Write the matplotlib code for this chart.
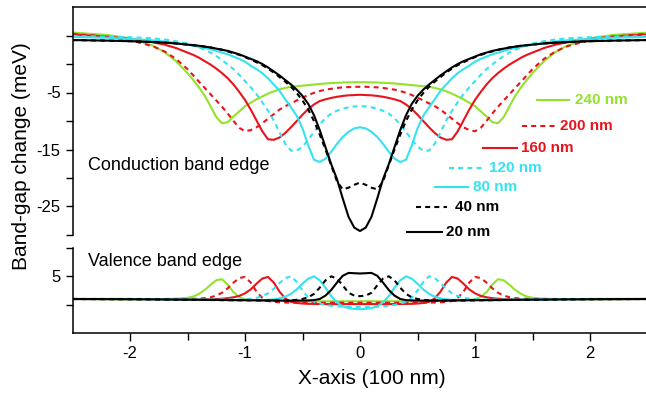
import numpy as np
import matplotlib
matplotlib.use("Agg")
import matplotlib.pyplot as plt
from matplotlib.lines import Line2D

plt.rcParams['font.family'] = ['Liberation Sans', 'DejaVu Sans']

# half profiles (x >= 0), mirrored to negative x below
x_half = [0.0, 0.05, 0.1, 0.15, 0.2, 0.25, 0.3, 0.35, 0.4, 0.45, 0.5, 0.55, 0.6,
          0.65, 0.7, 0.75, 0.8, 0.85, 0.9, 0.95, 1.0, 1.05, 1.1, 1.15, 1.2, 1.25,
          1.3, 1.35, 1.4, 1.45, 1.5, 1.6, 1.7, 1.8, 2.0, 2.2, 2.5]

widths = ['240 nm', '200 nm', '160 nm', '120 nm', '80 nm', '40 nm', '20 nm']

# conduction band edge (meV)
cb_240 = [-3.2, -3.2, -3.22, -3.25, -3.3, -3.35, -3.42, -3.5, -3.6, -3.7, -3.8, -3.9, -4.0,
          -4.2, -4.45, -4.8, -5.2, -5.7, -6.2, -6.8, -7.4, -8.3, -9.2, -10.2, -10.4, -9.3,
          -7.4, -5.6, -4.1, -2.8, -1.6, 0.5, 2.1, 3.2, 4.5, 5.1, 5.5]
cb_200 = [-4.0, -4.0, -4.05, -4.1, -4.2, -4.35, -4.5, -4.75, -5.05, -5.45, -5.9, -6.4, -6.9,
          -7.4, -8.0, -8.8, -9.6, -10.4, -11.1, -11.6, -11.8, -11.2, -10.0, -8.7, -7.5, -6.4,
          -5.3, -4.2, -3.1, -2.0, -0.9, 0.9, 2.2, 3.1, 4.2, 4.8, 5.3]
cb_160 = [-5.4, -5.45, -5.5, -5.6, -5.75, -5.95, -6.2, -6.5, -7.1, -7.9, -8.9, -10.0, -11.1,
          -12.1, -12.9, -13.3, -13.2, -11.8, -9.9, -8.0, -6.3, -4.9, -3.6, -2.5, -1.6, -0.8,
          -0.1, 0.5, 1.1, 1.6, 2.0, 2.8, 3.4, 3.8, 4.4, 4.8, 5.2]
cb_120 = [-7.4, -7.45, -7.6, -7.85, -8.2, -8.7, -9.5, -10.6, -11.9, -13.3, -14.5, -15.2, -15.2,
          -14.0, -12.0, -9.9, -8.2, -6.7, -5.3, -4.1, -3.0, -1.9, -0.9, -0.1, 0.7, 1.4,
          2.0, 2.5, 2.9, 3.3, 3.6, 4.0, 4.3, 4.5, 4.7, 4.8, 4.9]
cb_80 = [-11.1, -11.3, -11.9, -12.8, -14.0, -15.4, -16.6, -17.2, -16.8, -14.3, -11.3, -9.1, -7.6,
         -6.2, -4.7, -3.6, -2.5, -1.6, -0.9, -0.3, 0.4, 0.9, 1.3, 1.7, 2.0, 2.3,
         2.6, 2.8, 3.0, 3.2, 3.4, 3.7, 3.95, 4.15, 4.4, 4.6, 4.75]
cb_40 = [-20.8, -21.2, -21.7, -22.0, -20.6, -17.8, -15.0, -12.4, -10.0, -8.0, -6.4, -5.1, -4.0,
         -3.1, -2.3, -1.5, -0.8, -0.2, 0.3, 0.8, 1.2, 1.6, 1.9, 2.2, 2.5, 2.7,
         2.9, 3.05, 3.2, 3.3, 3.4, 3.6, 3.75, 3.85, 4.0, 4.1, 4.2]
cb_20 = [-29.3, -28.7, -26.8, -23.6, -20.2, -17.6, -14.6, -11.6, -9.0, -7.0, -5.6, -4.5, -3.6,
         -2.8, -2.0, -1.3, -0.6, 0.0, 0.5, 0.9, 1.3, 1.7, 2.0, 2.3, 2.5, 2.7,
         2.9, 3.05, 3.2, 3.3, 3.4, 3.6, 3.75, 3.85, 4.0, 4.1, 4.2]

# valence band edge (meV)
vb_240 = [0.6, 0.6, 0.6, 0.6, 0.6, 0.6, 0.6, 0.6, 0.6, 0.6, 0.6, 0.6, 0.62,
          0.63, 0.65, 0.67, 0.7, 0.73, 0.78, 0.85, 0.95, 1.35, 2.2, 3.5, 4.5, 4.3,
          3.5, 2.6, 1.9, 1.45, 1.2, 1.05, 1.0, 0.97, 0.95, 0.95, 1.0]
vb_200 = [0.35, 0.35, 0.35, 0.35, 0.35, 0.35, 0.35, 0.35, 0.35, 0.35, 0.35, 0.35, 0.35,
          0.38, 0.42, 0.5, 0.65, 1.2, 2.3, 3.9, 4.9, 4.7, 3.9, 2.9, 2.1, 1.6,
          1.3, 1.15, 1.07, 1.03, 1.0, 1.0, 1.0, 1.0, 1.0, 1.0, 1.0]
vb_160 = [0.1, 0.1, 0.1, 0.1, 0.1, 0.1, 0.1, 0.12, 0.13, 0.15, 0.2, 0.3, 0.5,
          1.1, 2.3, 3.9, 4.9, 4.6, 3.7, 2.7, 2.0, 1.55, 1.3, 1.15, 1.05, 1.0,
          0.95, 0.92, 0.9, 0.9, 0.9, 0.92, 0.95, 0.97, 1.0, 1.0, 1.0]
vb_120 = [-0.4, -0.4, -0.38, -0.35, -0.3, -0.2, -0.05, 0.2, 0.5, 1.2, 2.5, 4.0, 5.0,
          4.7, 3.8, 2.8, 2.0, 1.5, 1.2, 1.05, 0.95, 0.9, 0.9, 0.9, 0.9, 0.9,
          0.9, 0.9, 0.9, 0.9, 0.92, 0.93, 0.95, 0.97, 1.0, 1.0, 1.0]
vb_80 = [-0.8, -0.75, -0.6, -0.3, 0.4, 1.5, 3.0, 4.3, 5.0, 4.6, 3.7, 2.7, 1.9,
         1.4, 1.1, 0.95, 0.85, 0.8, 0.8, 0.8, 0.8, 0.8, 0.8, 0.82, 0.83, 0.85,
         0.86, 0.87, 0.88, 0.89, 0.9, 0.92, 0.94, 0.96, 1.0, 1.0, 1.0]
vb_40 = [1.5, 1.6, 2.1, 3.4, 4.6, 5.0, 4.3, 3.0, 1.9, 1.3, 1.0, 0.85, 0.78,
         0.74, 0.72, 0.72, 0.72, 0.73, 0.74, 0.75, 0.76, 0.77, 0.78, 0.79, 0.8, 0.81,
         0.82, 0.83, 0.84, 0.85, 0.86, 0.88, 0.9, 0.92, 0.95, 0.97, 1.0]
vb_20 = [5.5, 5.55, 5.6, 5.1, 3.9, 2.6, 1.6, 1.0, 0.8, 0.75, 0.72, 0.72, 0.72,
         0.72, 0.73, 0.74, 0.75, 0.76, 0.77, 0.78, 0.79, 0.8, 0.8, 0.81, 0.82, 0.83,
         0.84, 0.85, 0.86, 0.87, 0.88, 0.9, 0.92, 0.94, 0.96, 0.98, 1.0]

green = '#93e22b'
red = '#e8141c'
cyan = '#35e3f0'
colors = [green, red, red, cyan, cyan, 'black', 'black']
dashed = [False, True, False, True, False, True, False]
cb_all = [cb_240, cb_200, cb_160, cb_120, cb_80, cb_40, cb_20]
vb_all = [vb_240, vb_200, vb_160, vb_120, vb_80, vb_40, vb_20]


def mirror(h):
    h = np.asarray(h, dtype=float)
    return np.concatenate([h[:0:-1], h])


xh = np.asarray(x_half)
x = np.concatenate([-xh[:0:-1], xh])

W, H = 646, 394
fig = plt.figure(figsize=(W / 100, H / 100), dpi=100)


def fx(px):
    return px / W


def fy(py):
    return 1 - py / H


ax_top = fig.add_axes([fx(72.5), fy(235), fx(575), (235 - 7) / H])
ax_bot = fig.add_axes([fx(72.5), fy(333), fx(575), (333 - 248) / H])

lw = 1.5
dash = (0, (2.4, 2.0))
for cb, vb, c, d in zip(cb_all, vb_all, colors, dashed):
    ls = dash if d else '-'
    ax_top.plot(x, mirror(cb), color=c, lw=lw, linestyle=ls)
    ax_bot.plot(x, mirror(vb), color=c, lw=lw, linestyle=ls)

for ax in (ax_top, ax_bot):
    ax.set_xlim(-2.5, 2.5)
    ax.spines['right'].set_visible(False)
    for s in ax.spines.values():
        s.set_linewidth(1.1)
    ax.tick_params(axis='both', direction='out', labelsize=12, width=1.0, length=5)

ax_top.set_ylim(-30, 10)
ax_top.spines['bottom'].set_visible(False)
ax_top.set_yticks([5, 0, -5, -10, -15, -20, -25, -30])
ax_top.set_yticklabels(['', '', '-5', '', '-15', '', '-25', ''])
ax_top.tick_params(axis='x', bottom=False, labelbottom=False)

ax_bot.set_ylim(-5, 10)
ax_bot.spines['top'].set_visible(False)
ax_bot.set_yticks([10, 5, 0])
ax_bot.set_yticklabels(['', '5', ''])
ax_bot.set_xticks([-2, -1, 0, 1, 2])
ax_bot.set_xticklabels(['-2', '-1', '0', '1', '2'])
ax_bot.set_xticks([-1.5, -0.5, 0.5, 1.5], minor=True)
ax_bot.tick_params(axis='x', which='major', length=6)
ax_bot.tick_params(axis='x', which='minor', length=5, width=1.0)

fig.text(fx(22), fy(156), 'Band-gap change (meV)', rotation=90,
         ha='center', va='center', fontsize=15)
fig.text(fx(372), fy(378), 'X-axis (100 nm)', ha='center', va='center', fontsize=15)
fig.text(fx(88), fy(165), 'Conduction band edge', ha='left', va='center', fontsize=13)
fig.text(fx(88), fy(262), 'Valence band edge', ha='left', va='center', fontsize=13)

# staircase key
key_pos = [(537, 569, 575, 100), (522, 557, 560, 126), (483, 517, 521, 148),
           (449, 483, 489, 168), (435, 468, 473, 187), (416, 447, 455, 207),
           (407, 442, 446, 232)]
for (x0, x1, xt, yk), lab, c, d in zip(key_pos, widths, colors, dashed):
    fig.add_artist(Line2D([fx(x0), fx(x1)], [fy(yk), fy(yk)], transform=fig.transFigure,
                          color=c, lw=lw, linestyle=dash if d else '-'))
    fig.text(fx(xt), fy(yk), lab, color=c, fontsize=11, fontweight='bold',
             ha='left', va='center')

fig.savefig('out.png', dpi=100)
